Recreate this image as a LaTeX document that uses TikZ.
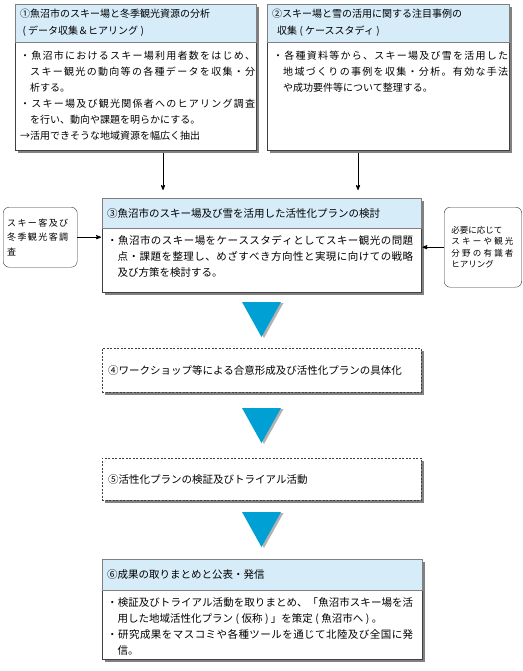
\documentclass[tikz,border=0pt]{standalone}
\usepackage{fontspec}
\setmainfont{Noto Sans CJK JP}
\usetikzlibrary{arrows,positioning,shadows}
\definecolor{headblue}{RGB}{214,236,249}
\definecolor{triblue}{RGB}{0,160,212}
% spread a line of CJK characters over a given width
\makeatletter
\def\jspread#1{\jsp@first#1\relax}
\def\jsp@first#1{#1\jsp@next}
\def\jsp@next#1{\ifx#1\relax\else\hskip 0pt plus 1fil\relax#1\expandafter\jsp@next\fi}
\makeatother
\newcommand\fillline[2]{\makebox[#1][s]{\jspread{#2}}}
\newcommand\jlp{\makebox[.8em]{(}}
\newcommand\jrp{\makebox[.8em]{)}}
\begin{document}
\begin{tikzpicture}[x=1pt,y=-1pt,
      >=stealth',
      panel/.style={
         rectangle,
         draw=black!75,
         fill=white,
         anchor=north west,
         inner sep=0pt,
         drop shadow={shadow xshift=3pt,shadow yshift=-3pt,opacity=.7,fill=black!70}
      },
      plan/.style={panel,dash pattern=on 2pt off 1.5pt},
      band/.style={
         rectangle,
         draw=black!50,
         fill=headblue,
         anchor=north west,
         inner xsep=5pt,
         inner ysep=0pt,
         align=left
      },
      bodytext/.style={inner sep=0pt,align=left,anchor=north west},
      smallfont/.style={font=\fontsize{10}{16}\selectfont},
      largefont/.style={font=\fontsize{10.5}{16}\selectfont},
      sidebox/.style={
         rectangle,
         rounded corners=6pt,
         draw=black!80,
         fill=white,
         anchor=north west,
         align=left,
         inner sep=0pt
      },
      link/.style={->,draw=black,line width=.8pt},
      flowwedge/.style={fill=triblue,
         drop shadow={shadow xshift=2.5pt,shadow yshift=-1pt,opacity=.5,fill=black!60}}
    ]
    \useasboundingbox (0,0) rectangle (522,671);

    % upper row
    \node[panel,minimum width=241pt,minimum height=146pt] (box1) at (15,4) {};
    \node[band,text width=231pt,minimum height=38pt,font=\fontsize{10}{17}\selectfont] (head1) at (box1.north west)
       {①魚沼市のスキー場と冬季観光資源の分析\\\jlp データ収集＆ヒアリング\jrp};
    \node[bodytext,smallfont,below right=8pt and 5pt of head1.south west] (text1) {%
       \fillline{235pt}{・魚沼市におけるスキー場利用者数をはじめ、}\\
       \hspace*{1em}\fillline{225pt}{スキー観光の動向等の各種データを収集・分}\\
       \hspace*{1em}析する。\\
       \fillline{235pt}{・スキー場及び観光関係者へのヒアリング調査}\\
       \hspace*{1em}を行い、動向や課題を明らかにする。\\
       →活用できそうな地域資源を幅広く抽出};

    \node[panel,minimum width=242pt,minimum height=146pt] (box2) at (267,4) {};
    \node[band,text width=232pt,minimum height=38pt,font=\fontsize{10}{17}\selectfont] (head2) at (box2.north west)
       {②スキー場と雪の活用に関する注目事例の\\\hspace*{.5em}収集\jlp ケーススタディ\jrp};
    \node[bodytext,smallfont,below right=8pt and 6pt of head2.south west] (text2) {%
       \fillline{235pt}{・各種資料等から、スキー場及び雪を活用した}\\
       \hspace*{1em}\fillline{225pt}{地域づくりの事例を収集・分析。有効な手法}\\
       \hspace*{1em}や成功要件等について整理する。};

    % plan study
    \node[panel,minimum width=319pt,minimum height=94pt] (box3) at (102,198) {};
    \node[band,text width=309pt,minimum height=30pt,largefont] (head3) at (box3.north west)
       {③魚沼市のスキー場及び雪を活用した活性化プランの検討};
    \node[bodytext,largefont,below right=7pt and 5pt of head3.south west] (text3) {%
       \fillline{306pt}{・魚沼市のスキー場をケーススタディとしてスキー観光の問題}\\
       \hspace*{1em}\fillline{295.5pt}{点・課題を整理し、めざすべき方向性と実現に向けての戦略}\\
       \hspace*{1em}及び方策を検討する。};

    \node[sidebox,minimum width=74pt,minimum height=60pt,text width=66pt,
          font=\fontsize{9}{14.5}\selectfont] (side1) at (3,207)
       {\fillline{61pt}{スキー客及び}\\\fillline{61pt}{冬季観光客調}\\査};
    \node[sidebox,minimum width=77.5pt,minimum height=80pt,text width=63pt,
          font=\fontsize{8.5}{11.5}\selectfont] (side2) at (444,207)
       {必要に応じて\\\fillline{62pt}{スキーや観光}\\\fillline{62pt}{分野の有識者}\\ヒアリング};

    % later steps
    \node[plan,minimum width=319pt,minimum height=44pt] (box4) at (102,348) {};
    \node[bodytext,largefont,anchor=west,right=6pt of box4.west] (text4)
       {④ワークショップ等による合意形成及び活性化プランの具体化};
    \node[plan,minimum width=319pt,minimum height=42pt] (box5) at (102,458) {};
    \node[bodytext,largefont,anchor=west,right=6pt of box5.west] (text5)
       {⑤活性化プランの検証及びトライアル活動};

    \node[panel,minimum width=320pt,minimum height=100pt] (box6) at (102,559) {};
    \node[band,text width=310pt,minimum height=31pt,largefont] (head6) at (box6.north west)
       {⑥成果の取りまとめと公表・発信};
    \node[bodytext,largefont,below right=7pt and 5pt of head6.south west] (text6) {%
       \fillline{306pt}{・検証及びトライアル活動を取りまとめ、「魚沼市スキー場を活}\\
       \hspace*{1em}用した地域活性化プラン\jlp 仮称\jrp 」を策定\jlp 魚沼市へ\jrp 。\\
       \fillline{306pt}{・研究成果をマスコミや各種ツールを通じて北陸及び全国に発}\\
       \hspace*{1em}信。};

    % connectors
    \coordinate (drop1) at (163,0);
    \coordinate (drop2) at (358,0);
    \draw[link,shorten <=3pt,shorten >=8pt] (box1.south -| drop1) -- (head3.north -| drop1);
    \draw[link,shorten <=3pt,shorten >=8pt] (box2.south -| drop2) -- (head3.north -| drop2);
    \draw[link,shorten >=1pt] (side1.east) -- (side1.east -| box3.west);
    \draw[link,shorten >=1pt] (side2.west) -- (side2.west -| box3.east);

    \foreach \ty in {302,408,512}
       \fill[flowwedge] (242,\ty) -- (281,\ty) -- (261.5,\ty+35) -- cycle;
\end{tikzpicture}
\end{document}
